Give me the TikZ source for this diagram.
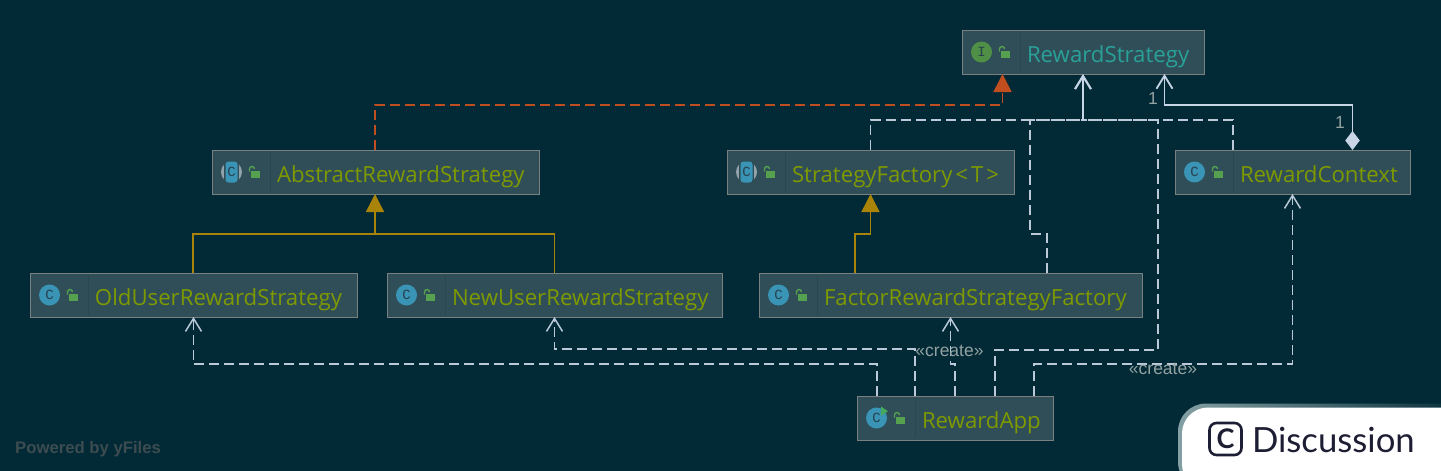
\documentclass[tikz,border=0pt]{standalone}
\usepackage{fontspec}
\usepackage{xcolor}
\setmainfont{Open Sans}
\newfontfamily\edgefont{Liberation Sans}
\newfontfamily\iconfont{Liberation Mono}
\newfontfamily\tabfont{Lato}
\usetikzlibrary{arrows.meta, positioning}

\definecolor{bgdark}{HTML}{012A36}
\definecolor{boxfill}{HTML}{2F4E58}
\definecolor{boxline}{HTML}{7A7F7F}
\definecolor{dividerline}{HTML}{29474F}
\definecolor{classtext}{HTML}{7F9A00}
\definecolor{ifacetext}{HTML}{2AA198}
\definecolor{iconblue}{HTML}{3A94B6}
\definecolor{icongreen}{HTML}{4F9046}
\definecolor{lockgreen}{HTML}{55A14F}
\definecolor{playgreen}{HTML}{45A85A}
\definecolor{icondark}{HTML}{28424E}
\definecolor{abstractgray}{HTML}{93A3AB}
\definecolor{linewhite}{HTML}{BCC9D9}
\definecolor{headwhite}{HTML}{C8D5E6}
\definecolor{implorange}{HTML}{C04E1E}
\definecolor{extgold}{HTML}{A98408}
\definecolor{labelgray}{HTML}{93A1A1}
\definecolor{poweredgray}{HTML}{3D4C50}
\definecolor{tabink}{HTML}{1D1D33}
\definecolor{tabedge}{HTML}{84A0A4}

% icon row in front of the class name
\newcommand{\lockicon}[1]{
  \draw[dividerline, line width=0.8pt] ([shift={(58,-20)}]#1.west) -- ([shift={(58,20)}]#1.west);
  \fill[lockgreen] ([shift={(39,-1.3)}]#1.west) rectangle ++(9,7);
  \draw[lockgreen, line width=1.4pt] ([shift={(37.5,-0.3)}]#1.west) -- ++(0,-2.7) arc (180:360:2.5);
}
\newcommand{\classicon}[2]{
  \node[iconball, fill=iconblue] (#1-icon) at ([xshift=19.5pt]#1.west) {#2};
  \lockicon{#1}
}
\newcommand{\abstracticon}[2]{
  \fill[abstractgray] ([xshift=19.5pt]#1.west) circle (10.5);
  \fill[boxfill] ([shift={(12,-11)}]#1.west) rectangle ++(15,22);
  \node[iconball, fill=iconblue, rectangle, rounded corners=3pt, minimum width=12pt, minimum height=21pt] (#1-icon) at ([xshift=19.5pt]#1.west) {#2};
  \lockicon{#1}
}

\begin{document}
\begin{tikzpicture}[
    x=1pt, y=-1pt,
    node distance=76pt,
    % boxes of the diagram
    classbox/.style={
      rectangle,
      draw=boxline,
      line width=1pt,
      fill=boxfill,
      text=classtext,
      font=\fontsize{22.2}{26}\selectfont,
      text width=#1,
      align=left,
      inner xsep=0pt,
      inner ysep=0pt,
      outer sep=0pt,
      minimum height=44pt,
      text height=21pt,
      text depth=1pt,
      execute at begin node={\hspace*{65pt}}
    },
    iconball/.style={
      circle,
      minimum size=21pt,
      inner sep=0pt,
      text=icondark,
      font=\iconfont\fontsize{14}{14}\selectfont
    },
    edgelabel/.style={
      text=labelgray,
      inner sep=0pt,
      font=\edgefont\fontsize{17.5}{17.5}\selectfont
    },
    % connectors
    openhead/.style={-{Straight Barb[length=13pt,width=16pt]}},
    depline/.style={draw=linewhite, line width=1.5pt, dash pattern=on 10pt off 5pt},
    dephead/.style={depline, openhead},
    implhead/.style={draw=implorange, line width=1.5pt, dash pattern=on 10pt off 5pt, -{Triangle[length=18pt,width=18pt]}},
    extline/.style={draw=extgold, line width=1.5pt},
    exthead/.style={extline, -{Triangle[length=18pt,width=18pt]}}
  ]

  \fill[bgdark] (0,0) rectangle (1441,471);
  \useasboundingbox (0,0) rectangle (1441,471);

  % --- boxes ---
  \node[classbox=242pt, text=ifacetext] (strategy) at (1083,52) {RewardStrategy};
  \node[classbox=327pt, below=of strategy, xshift=-707.5pt] (abstract) {AbstractRewardStrategy};
  \node[classbox=287pt, below=of strategy, xshift=-212.5pt] (factorbase) {StrategyFactory\kern3pt<\kern3pt T\kern3pt>};
  \node[classbox=235pt, below=of strategy, xshift=209.5pt] (context) {RewardContext};

  \node[classbox=327pt, below=79pt of abstract, xshift=-182pt] (olduser) {OldUserRewardStrategy};
  \node[classbox=335pt, below=79pt of abstract, xshift=179pt] (newuser) {NewUserRewardStrategy};
  \node[classbox=383pt, below=79pt of factorbase, xshift=80pt] (factor) {FactorRewardStrategyFactory};

  \node[classbox=196pt, below=79pt of factor, xshift=4.5pt] (app) {RewardApp};

  % --- icons ---
  \node[iconball, fill=icongreen] (strategy-icon) at ([xshift=19.5pt]strategy.west) {I};
  \lockicon{strategy}
  \abstracticon{abstract}{C}
  \abstracticon{factorbase}{C}
  \classicon{context}{C}
  \classicon{olduser}{C}
  \classicon{newuser}{C}
  \classicon{factor}{C}
  \classicon{app}{C}
  \fill[playgreen] ([shift={(24,-11.5)}]app.west) -- ++(7,4.7) -- ++(-7,4.7) -- cycle;

  % --- arrows ---
  \coordinate (strategybus) at ([yshift=-46pt]strategy.south);
  \coordinate (abstractbus) at ([xshift=-0.5pt,yshift=-40pt]abstract.south);

  \draw[implhead] ([xshift=-0.5pt]abstract.north) -- ++(0,-45) -| ([xshift=-80.5pt]strategy.south);

  \draw[extline] ([xshift=-0.3pt]olduser.north) |- (abstractbus) -| (newuser.north);
  \draw[exthead] (abstractbus) -- ([xshift=-0.5pt]abstract.south);
  \draw[exthead] ([xshift=-95.5pt]factor.north) -- ++(0,-39) -| (factorbase.south);

  \draw[depline] (factorbase.north) |- (strategybus);
  \draw[depline] ([xshift=-59.5pt]context.north) |- (strategybus);
  \draw[depline] ([xshift=96.5pt]factor.north) -- ++(0,-39) -- ++(-17,0) |- (strategybus);
  \draw[depline] ([xshift=40pt]app.north) -- ++(0,-46) -- ++(163,0) |- (strategybus);
  \draw[draw=headwhite, line width=2.2pt, openhead] (strategybus) -- (strategy.south);

  \draw[draw=headwhite, line width=1.8pt, {Diamond[length=19pt,width=14.5pt]}-{Straight Barb[length=13pt,width=16pt]}]
    ([xshift=60pt]context.north) -- ++(0,-45) -| ([xshift=81.5pt]strategy.south);

  \draw[dephead] ([xshift=-78pt]app.north) -- ++(0,-32) -| (olduser.south);
  \draw[dephead] ([xshift=-40pt]app.north) -- ++(0,-47) -| (newuser.south);
  \draw[dephead] (app.north) -- ++(0,-32) -| (factor.south);
  \draw[dephead] ([xshift=79pt]app.north) -- ++(0,-32) -| (context.south);

  % --- labels ---
  \node[edgelabel] (createfactor) at (949.5,351) {«create»};
  \node[edgelabel] (createcontext) at (1163,369) {«create»};
  \node[edgelabel] (onestrategy) at (1153,98) {1};
  \node[edgelabel] (onecontext) at (1340,122) {1};
  \node[text=poweredgray, inner sep=0pt, anchor=west, font=\edgefont\bfseries\fontsize{16.7}{16.7}\selectfont] (powered) at (15,449) {Powered by yFiles};

  % --- tab in the corner ---
  \shade[left color=tabedge, right color=bgdark, rounded corners=28pt] (1178,490) -- (1178,403.5) -- (1470,403.5) -- (1470,490) -- cycle;
  \fill[white, rounded corners=26pt] (1182,490) -- (1182,407.5) -- (1470,407.5) -- (1470,490) -- cycle;
  \node[draw=tabink, line width=2.6pt, rounded corners=7pt, minimum size=32pt, inner sep=0pt, text=tabink, font=\tabfont\bfseries\fontsize{27}{27}\selectfont] (tabicon) at (1225.5,439) {C};
  \node[right=9pt of tabicon, inner sep=0pt, yshift=-1pt, text=tabink, font=\tabfont\fontsize{34.7}{34.7}\selectfont] (tabtext) {Discussion};
\end{tikzpicture}
\end{document}
